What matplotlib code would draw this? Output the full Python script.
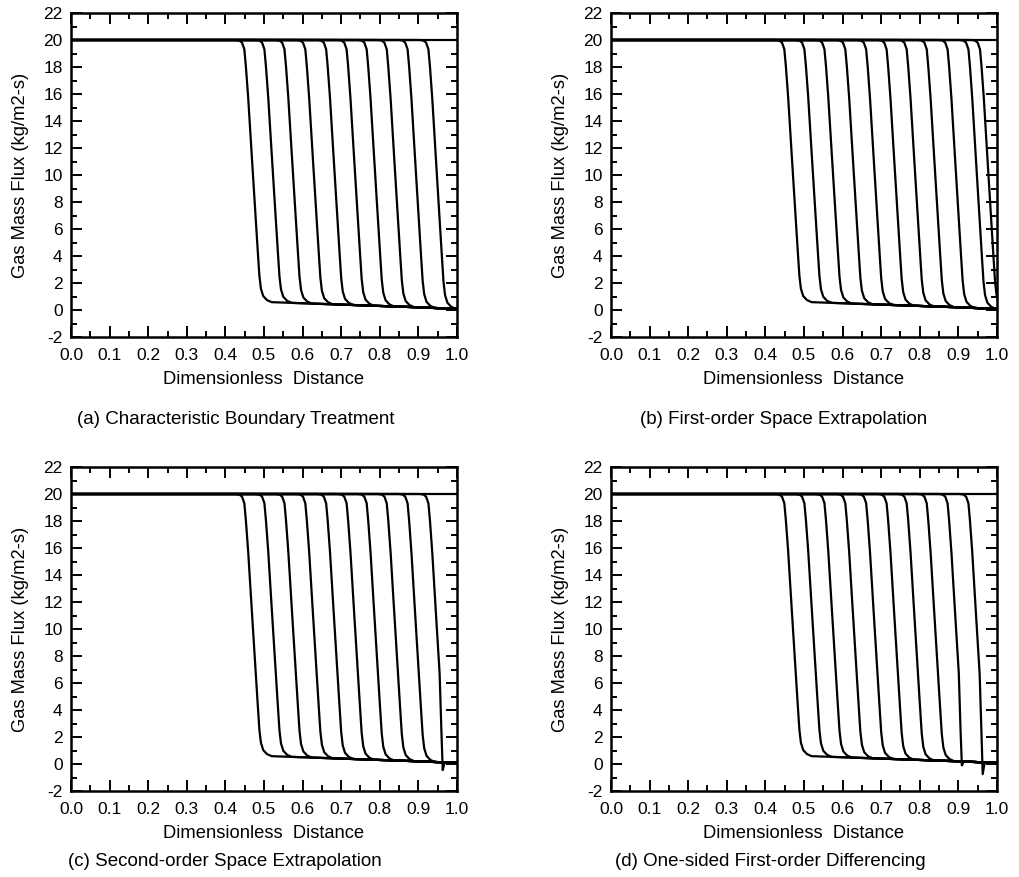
import matplotlib

matplotlib.use("Agg")
import matplotlib.pyplot as plt
import numpy as np
from matplotlib.ticker import MultipleLocator

plt.rcParams["font.family"] = ["Liberation Sans", "DejaVu Sans"]
plt.rcParams["axes.unicode_minus"] = False

# front positions (x where the flux passes ~11.6)
fronts_a = [0.468, 0.520, 0.572, 0.626, 0.680, 0.733, 0.785, 0.837, 0.891, 0.945]
fronts_b = fronts_a + [0.975]
fronts_c = list(fronts_a)
fronts_d = list(fronts_a)

# undershoot at the outflow boundary: {front index: lowest flux}
dips_a = {}
dips_b = {}
dips_c = {9: -0.45}
dips_d = {8: -0.1, 9: -0.75}

# shape of one front: offset from the crossing point, fraction of the jump
prof_off = [-0.042, -0.032, -0.025, -0.019, -0.015, -0.009, 0.0,
            0.010, 0.016, 0.020, 0.024, 0.030, 0.040, 0.052]
prof_frac = [1.0, 0.998, 0.99, 0.965, 0.90, 0.78, 0.565,
             0.33, 0.19, 0.10, 0.05, 0.022, 0.007, 0.0]

# level left behind the fronts
base_x = [0.40, 0.50, 0.60, 0.70, 0.80, 0.90, 1.00, 1.10]
base_y = [0.70, 0.60, 0.50, 0.40, 0.30, 0.20, 0.08, 0.0]

top_flux = 20.0

captions = [
    "(a) Characteristic Boundary Treatment",
    "(b) First-order Space Extrapolation",
    "(c) Second-order Space Extrapolation",
    "(d) One-sided First-order Differencing",
]


def front_curve(xc, dip=None):
    off = np.array(prof_off)
    frac = np.array(prof_frac)
    if dip is not None:
        keep = off <= 0.010
        off, frac = off[keep], frac[keep]
    xs = xc + off
    b = np.interp(xs, base_x, base_y)
    ys = b + (top_flux - b) * frac
    xs, ys = list(xs), list(ys)
    if dip is not None:
        bx = [xc + 0.0145, xc + 0.018, xc + 0.023]
        bb = np.interp(bx, base_x, base_y)
        xs += bx
        ys += [bb[0] + (top_flux - bb[0]) * 0.12, dip, bb[2]]
    tail_x = [v for v in base_x if v > xs[-1]]
    tail_y = list(np.interp(tail_x, base_x, base_y))
    return [0.0] + xs + tail_x, [top_flux] + ys + tail_y


def draw_panel(ax, fronts, dips):
    ax.plot([0, 1.1], [top_flux, top_flux], color="black", lw=1.6)
    for i, xc in enumerate(fronts):
        x, y = front_curve(xc, dips.get(i))
        ax.plot(x, y, color="black", lw=1.6, solid_joinstyle="round")
    ax.set_xlim(0, 1)
    ax.set_ylim(-2, 22)
    ax.xaxis.set_major_locator(MultipleLocator(0.1))
    ax.xaxis.set_minor_locator(MultipleLocator(0.05))
    ax.yaxis.set_major_locator(MultipleLocator(2))
    ax.yaxis.set_minor_locator(MultipleLocator(1))
    ax.xaxis.set_major_formatter(plt.FuncFormatter(lambda v, p: f"{v:.1f}"))
    ax.tick_params(which="both", direction="in", top=True, right=True,
                   width=1.4, labelsize=12.5)
    ax.tick_params(axis="x", pad=8)
    ax.tick_params(axis="y", pad=6)
    ax.tick_params(which="major", length=8)
    ax.tick_params(which="minor", length=4)
    for s in ax.spines.values():
        s.set_linewidth(1.8)
    ax.set_xlabel("Dimensionless  Distance", fontsize=13.2, labelpad=6)
    ax.set_ylabel("Gas Mass Flux (kg/m2-s)", fontsize=13.2, labelpad=10)


fig = plt.figure(figsize=(10.2, 8.77), dpi=100)
W, H = 1020, 877
boxes = [(71, 13, 386, 324), (611, 13, 386, 324),
         (71, 467, 386, 324), (611, 467, 386, 324)]
all_fronts = [fronts_a, fronts_b, fronts_c, fronts_d]
all_dips = [dips_a, dips_b, dips_c, dips_d]
cap_pos = [(77, 420), (640, 420), (68, 862), (615, 862)]

for k in range(4):
    l, t, w, h = boxes[k]
    ax = fig.add_axes([l / W, 1 - (t + h) / H, w / W, h / H])
    draw_panel(ax, all_fronts[k], all_dips[k])
    cx, cy = cap_pos[k]
    fig.text(cx / W, 1 - cy / H, captions[k], fontsize=13.5,
             ha="left", va="center")

fig.savefig("out.png", dpi=100)
plt.close(fig)
